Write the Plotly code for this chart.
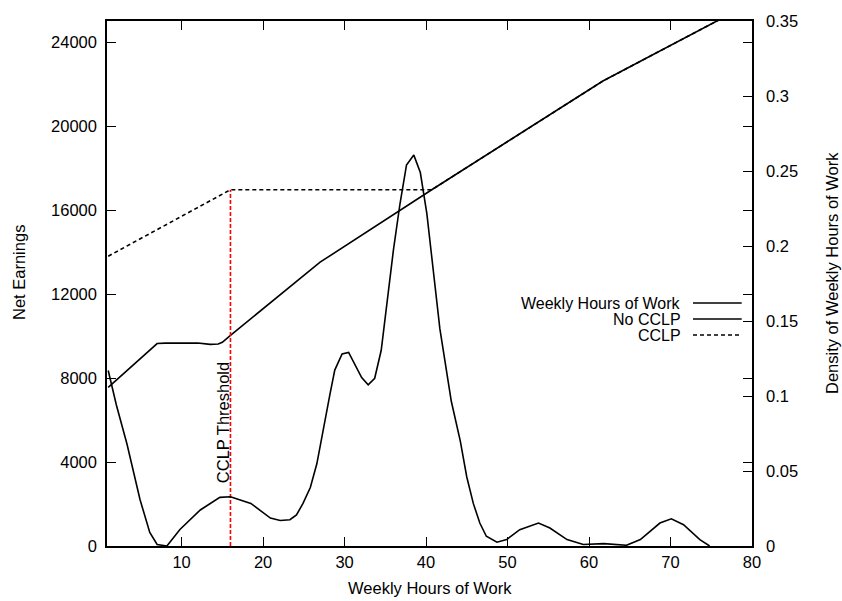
import plotly.graph_objects as go

# ---------------- data ----------------
# Net earnings, No CCLP (left axis)
nocclp_hours = [1, 7, 8, 10, 12, 13.5, 14.5, 15, 16, 27, 40.7, 61.7, 80]
nocclp_earn = [7550, 9640, 9660, 9680, 9670, 9600, 9620, 9700, 10030, 13515, 16965, 22140, 25880]

# Net earnings, CCLP (left axis)
cclp_hours = [1, 16, 40.7, 61.7, 80]
cclp_earn = [13800, 16965, 16965, 22140, 25880]

# Density of weekly hours of work (right axis)
dens_hours = [1, 2, 3.3, 4.9, 6.1, 7, 8.2, 9.8, 12.3, 14.7, 16, 18.5, 20.9, 22.1, 23.3,
              24.1, 24.9, 25.8, 26.6, 27.4, 28.2, 28.8, 29.7, 30.5, 31.3, 32.1, 32.9,
              33.7, 34.5, 35.2, 36, 36.8, 37.6, 38.5, 39.3, 40.1, 40.9, 41.7, 43.1,
              44.2, 45, 45.8, 46.6, 47.4, 48.7, 49.9, 51.5, 53.8, 55.2, 57.3, 59.3,
              61.8, 64.6, 66.3, 68.7, 70.1, 71.6, 73.6, 74.8]
dens_vals = [0.117, 0.094, 0.068, 0.031, 0.009, 0.001, 0.0, 0.011, 0.024, 0.0324, 0.0328,
             0.0284, 0.0186, 0.017, 0.0175, 0.0207, 0.0284, 0.039, 0.0548, 0.0789, 0.1009,
             0.1173, 0.128, 0.129, 0.1206, 0.1123, 0.1075, 0.1118, 0.1305, 0.1623, 0.1974,
             0.228, 0.254, 0.2606, 0.249, 0.2216, 0.184, 0.1447, 0.0965, 0.0701, 0.046,
             0.0284, 0.0153, 0.0065, 0.0025, 0.0043, 0.0109, 0.0153, 0.012, 0.0043, 0.001,
             0.0016, 0.0005, 0.0043, 0.0153, 0.0181, 0.0142, 0.0043, 0.0]

# CCLP threshold
threshold_hours = [16, 16]
threshold_earn = [0, 16965]

# ticks
x_ticks = [10, 20, 30, 40, 50, 60, 70, 80]
y_ticks = [0, 4000, 8000, 12000, 16000, 20000, 24000]
y2_ticks = [0, 0.05, 0.1, 0.15, 0.2, 0.25, 0.3, 0.35]
y2_ticklabels = ["0", "0.05", "0.1", "0.15", "0.2", "0.25", "0.3", "0.35"]

legend_labels = ["Weekly Hours of Work", "No CCLP", "CCLP"]
legend_dashes = ["solid", "solid", "4px,3px"]

FONT = "Liberation Sans, Arial, Helvetica, sans-serif"
FS = 16.5
TFS = 16.5
LFS = 16

fig = go.Figure()

fig.add_trace(go.Scatter(x=dens_hours, y=dens_vals, mode="lines", yaxis="y2",
                         line=dict(color="black", width=1.6), showlegend=False))
fig.add_trace(go.Scatter(x=cclp_hours, y=cclp_earn, mode="lines",
                         line=dict(color="black", width=1.6, dash="4px,3px"), showlegend=False))
fig.add_trace(go.Scatter(x=nocclp_hours, y=nocclp_earn, mode="lines",
                         line=dict(color="black", width=1.6), showlegend=False))
fig.add_trace(go.Scatter(x=threshold_hours, y=threshold_earn, mode="lines",
                         line=dict(color="#ff0000", width=1.6, dash="4px,2px"), showlegend=False))

# threshold label
fig.add_annotation(x=threshold_hours[0], y=5870, xref="x", yref="y", text="CCLP Threshold",
                   textangle=-90, showarrow=False, xanchor="center", yanchor="middle",
                   xshift=-8, font=dict(family=FONT, size=FS, color="black"))

# manual gnuplot-style legend (text right-aligned, sample line to the right)
plot_l, plot_r, plot_t, plot_b = 107, 752, 15, 546.5
W, H = plot_r - plot_l, plot_b - plot_t
rows_py = [300.5, 316.7, 332.9]
for lab, dash, py in zip(legend_labels, legend_dashes, rows_py):
    yp = (plot_b - py) / H
    fig.add_annotation(x=(681.7 - plot_l) / W, y=yp, xref="paper", yref="paper", text=lab,
                       showarrow=False, xanchor="right", yanchor="middle", borderpad=0,
                       font=dict(family=FONT, size=LFS, color="black"))
    fig.add_shape(type="line", xref="paper", yref="paper",
                  x0=(693 - plot_l) / W, x1=(741.7 - plot_l) / W, y0=yp, y1=yp,
                  line=dict(color="black", width=1.6, dash=dash))

# axis titles
fig.add_annotation(x=0, y=0.52, xref="paper", yref="paper", text="Net Earnings",
                   textangle=-90, showarrow=False, xanchor="center", yanchor="middle",
                   xshift=19 - plot_l, font=dict(family=FONT, size=FS, color="black"))
fig.add_annotation(x=1, y=0.52, xref="paper", yref="paper", text="Density of Weekly Hours of Work",
                   textangle=-90, showarrow=False, xanchor="center", yanchor="middle",
                   xshift=832 - plot_r, font=dict(family=FONT, size=FS, color="black"))
fig.add_annotation(x=0.5, y=0, xref="paper", yref="paper", text="Weekly Hours of Work",
                   showarrow=False, xanchor="center", yanchor="middle",
                   yshift=-(588 - plot_b), font=dict(family=FONT, size=FS, color="black"))

axis_common = dict(showline=True, linecolor="black", linewidth=1.5, ticks="inside",
                   ticklen=9, tickwidth=1.2, tickcolor="black", showgrid=False, zeroline=False,
                   tickfont=dict(family=FONT, size=TFS, color="black"))

fig.update_layout(
    width=842, height=601,
    margin=dict(l=plot_l, r=842 - plot_r, t=plot_t, b=601 - plot_b),
    paper_bgcolor="white", plot_bgcolor="white",
    font=dict(family=FONT, size=FS, color="black"),
    xaxis=dict(range=[0.85, 80], tickvals=x_ticks, mirror="ticks", ticklabelstandoff=0,
               **axis_common),
    yaxis=dict(range=[0, 25000], tickvals=y_ticks, tickformat="d", mirror="ticks",
               ticklabelstandoff=5, **axis_common),
    yaxis2=dict(range=[0, 0.35], tickvals=y2_ticks, ticktext=y2_ticklabels, overlaying="y",
                side="right", ticklabelstandoff=9, **axis_common),
    showlegend=False,
)

fig.write_html("out.html", config={"displayModeBar": False},
               post_script="document.body.style.margin='0';document.body.style.overflow='hidden';")
